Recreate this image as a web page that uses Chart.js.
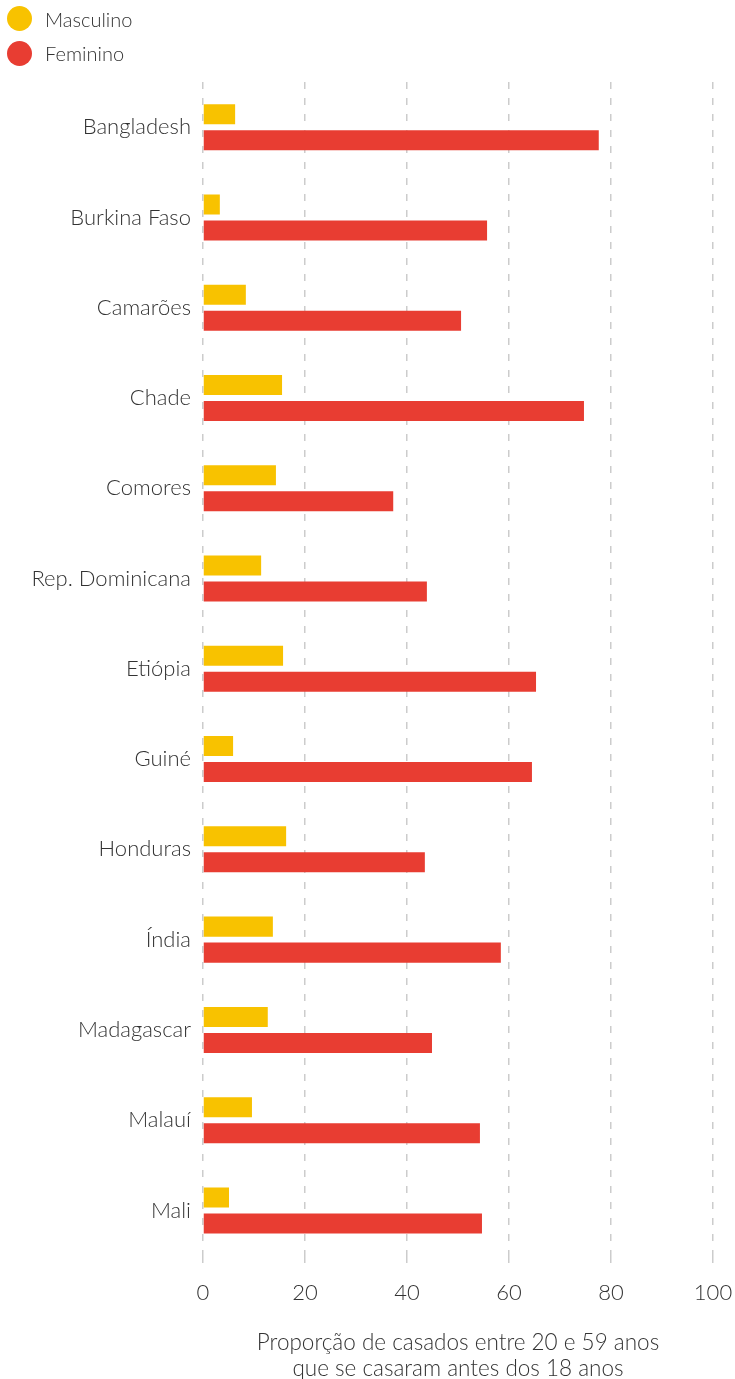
<!DOCTYPE html>
<html>
<head>
<meta charset="utf-8">
<script src="https://cdn.jsdelivr.net/npm/chart.js@4.4.1/dist/chart.umd.min.js"></script>
<style>
  html, body { margin: 0; padding: 0; background: #fff; }
  #wrap { position: relative; width: 735px; height: 1379px; }
  #legend { position: absolute; left: 7px; top: 6px; font-family: Lato, "Open Sans", sans-serif; font-weight: 300; font-size: 20px; color: #333; }
  #legend .item { display: flex; align-items: center; height: 25px; margin-bottom: 9.5px; }
  #legend .dot { width: 25px; height: 25px; border-radius: 50%; margin-right: 13px; }
</style>
</head>
<body>
<div id="wrap">
  <canvas id="chart" width="735" height="1379"></canvas>
  <div id="legend"></div>
</div>
<script>
const countries = ['Bangladesh', 'Burkina Faso', 'Camarões', 'Chade', 'Comores', 'Rep. Dominicana',
  'Etiópia', 'Guiné', 'Honduras', 'Índia', 'Madagascar', 'Malauí', 'Mali'];
const masculino = [6.3, 3.3, 8.4, 15.5, 14.3, 11.4, 15.7, 5.9, 16.3, 13.7, 12.7, 9.6, 5.1];
const feminino = [77.6, 55.7, 50.6, 74.7, 37.3, 43.9, 65.3, 64.5, 43.5, 58.4, 44.9, 54.3, 54.7];
const xTicks = [0, 20, 40, 60, 80, 100];
const axisTitle = ['Proporção de casados entre 20 e 59 anos', 'que se casaram antes dos 18 anos'];

const FONT = 'Lato, "Open Sans", sans-serif';
const TEXT = '#333333';
const GRID = '#cccccc';

const chart = new Chart(document.getElementById('chart'), {
  type: 'bar',
  data: {
    labels: countries,
    datasets: [
      { label: 'Masculino', data: masculino, backgroundColor: '#F8C200' },
      { label: 'Feminino', data: feminino, backgroundColor: '#E83D32' }
    ]
  },
  options: {
    indexAxis: 'y',
    responsive: false,
    animation: false,
    categoryPercentage: 0.576,
    barPercentage: 0.77,
    layout: { padding: { top: 82, right: 22, bottom: 0, left: 0 } },
    plugins: { legend: { display: false }, tooltip: { enabled: false } },
    scales: {
      y: {
        grid: { display: false, drawTicks: false },
        border: { display: false },
        ticks: { color: TEXT, padding: 12, font: { family: FONT, size: 22, weight: 300 } },
        afterFit: (scale) => { scale.width = 203; }
      },
      x: {
        min: 0,
        max: 100,
        afterBuildTicks: (scale) => { scale.ticks = xTicks.map(v => ({ value: v })); },
        afterFit: (scale) => { scale.paddingLeft = 0; scale.paddingRight = 0; },
        grid: { color: GRID, lineWidth: 1.5, tickLength: 10, tickColor: GRID, tickWidth: 1.5, tickBorderDash: [7, 9] },
        border: { display: false, dash: [7, 9] },
        ticks: { color: TEXT, padding: 14, font: { family: FONT, size: 22, weight: 300 } },
        title: {
          display: true,
          text: axisTitle,
          color: TEXT,
          padding: { top: 10, bottom: -3 },
          font: { family: FONT, size: 22.5, weight: 300, lineHeight: 1.156 }
        }
      }
    }
  }
});

const legend = document.getElementById('legend');
chart.data.datasets.forEach(ds => {
  const item = document.createElement('div');
  item.className = 'item';
  item.innerHTML = '<span class="dot" style="background:' + ds.backgroundColor + '"></span><span>' + ds.label + '</span>';
  legend.appendChild(item);
});
</script>
</body>
</html>
